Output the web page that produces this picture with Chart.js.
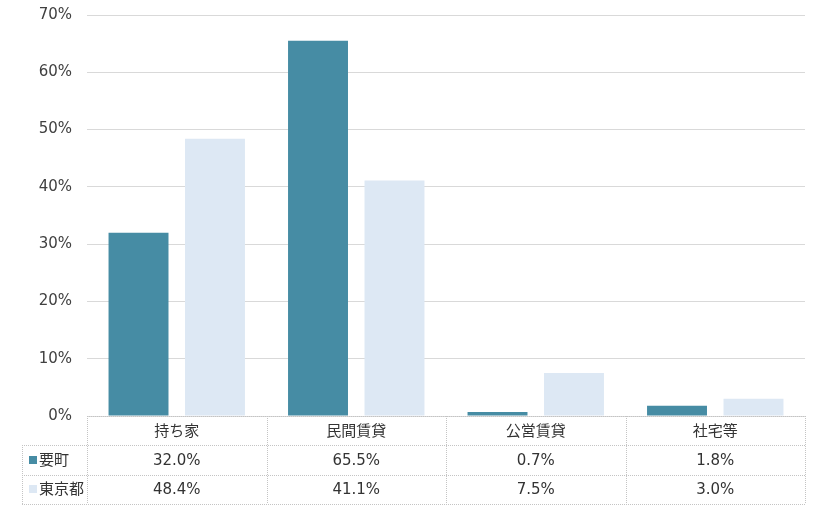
<!DOCTYPE html>
<html>
<head>
<meta charset="utf-8">
<script src="https://cdn.jsdelivr.net/npm/chart.js@4"></script>
<style>
  body { margin: 0; background: #fff; }
  #wrap { width: 820px; height: 510px; }
</style>
</head>
<body>
<div id="wrap"><canvas id="housing"></canvas></div>
<script>
var categories = ["持ち家", "民間賃貸", "公営賃貸", "社宅等"];
var seriesNames = ["要町", "東京都"];
var kanameValues = [32.0, 65.5, 0.7, 1.8];
var tokyoValues = [48.4, 41.1, 7.5, 3.0];
var seriesColors = ["#468ca4", "#dde8f4"];

var FONT = "'DejaVu Sans', 'Noto Sans CJK JP', sans-serif";

// draws the data table under the plot, using the x scale for column edges
var dataTable = {
  id: 'dataTable',
  afterDraw: function (chart) {
    var ctx = chart.ctx;
    var x = chart.scales.x;
    var area = chart.chartArea;
    var top = area.bottom;
    var rowH = 29.3;
    var left = 22;
    var half = (x.getPixelForValue(1) - x.getPixelForValue(0)) / 2;
    var rows = [kanameValues, tokyoValues];

    ctx.save();
    ctx.strokeStyle = "#c4c4c4";
    ctx.lineWidth = 1;
    ctx.setLineDash([1, 1]);
    // horizontal lines
    ctx.beginPath();
    ctx.moveTo(area.left, top + 0.5); ctx.lineTo(area.right, top + 0.5);
    for (var r = 1; r <= 3; r++) {
      var yy = Math.round(top + r * rowH) + 0.5;
      ctx.moveTo(left, yy); ctx.lineTo(area.right, yy);
    }
    // vertical lines
    ctx.moveTo(left + 0.5, Math.round(top + rowH)); ctx.lineTo(left + 0.5, Math.round(top + 3 * rowH));
    for (var i = 0; i <= categories.length; i++) {
      var xx = Math.round(x.getPixelForValue(0) - half + i * 2 * half) + 0.5;
      ctx.moveTo(xx, top); ctx.lineTo(xx, Math.round(top + 3 * rowH));
    }
    ctx.stroke();
    ctx.setLineDash([]);

    ctx.fillStyle = "#333";
    ctx.font = "15px " + FONT;
    ctx.textAlign = "center";
    ctx.textBaseline = "middle";
    categories.forEach(function (c, i) {
      ctx.fillText(c, x.getPixelForValue(i), top + rowH / 2 + 1);
    });
    rows.forEach(function (vals, r) {
      var cy = top + (r + 1.5) * rowH + 1;
      vals.forEach(function (v, i) {
        ctx.fillText(v.toFixed(1) + "%", x.getPixelForValue(i), cy);
      });
      ctx.fillStyle = seriesColors[r];
      ctx.fillRect(29, Math.round(cy - 5), 8, 8);
      ctx.fillStyle = "#333";
      ctx.textAlign = "left";
      ctx.fillText(seriesNames[r], 39, cy);
      ctx.textAlign = "center";
    });
    ctx.restore();
  }
};

var ctx = document.getElementById("housing").getContext('2d');
new Chart(ctx, {
  type: 'bar',
  data: {
    labels: categories,
    datasets: [{
      label: seriesNames[0],
      data: kanameValues,
      backgroundColor: seriesColors[0]
    }, {
      label: seriesNames[1],
      data: tokyoValues,
      backgroundColor: seriesColors[1]
    }]
  },
  options: {
    responsive: true,
    maintainAspectRatio: false,
    animation: false,
    devicePixelRatio: 1,
    layout: { padding: { left: 0, right: 15, top: 15, bottom: 94 } },
    categoryPercentage: 0.852,
    barPercentage: 0.784,
    plugins: {
      legend: { display: false },
      tooltip: { enabled: false }
    },
    scales: {
      x: { display: false },
      y: {
        min: 0,
        max: 70,
        ticks: {
          stepSize: 10,
          color: "#404040",
          font: { size: 15, family: FONT },
          padding: 15,
          callback: function (v) { return v + "%"; }
        },
        border: { display: false },
        grid: { color: "#d9d9d9", drawTicks: false },
        afterFit: function (scale) {
          scale.width = 87;
          scale.paddingTop = 0;
          scale.paddingBottom = 0;
        }
      }
    }
  },
  plugins: [dataTable]
});
</script>
</body>
</html>
